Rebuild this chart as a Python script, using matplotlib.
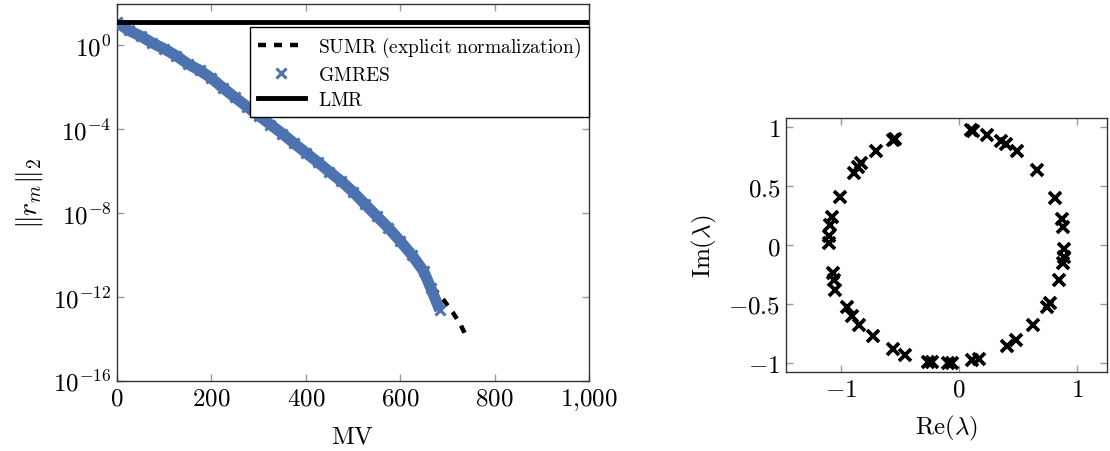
import numpy as np
import matplotlib
matplotlib.use("Agg")
import matplotlib.pyplot as plt
from matplotlib.ticker import FixedLocator, FixedFormatter, NullLocator

plt.rcParams['mathtext.fontset'] = 'cm'
plt.rcParams['font.family'] = 'serif'
plt.rcParams['font.serif'] = ['DejaVu Serif']

# ---------------- data: convergence plot ----------------
gmres_mv = [0, 25, 50, 75, 100, 125, 150, 175, 200, 225, 250, 275, 300, 325,
            350, 375, 400, 425, 450, 475, 500, 525, 550, 575, 600, 625, 650,
            665, 684]
gmres_log10 = [1.08, 0.70, 0.43, 0.10, -0.18, -0.50, -0.90, -1.20, -1.58, -2.05,
               -2.50, -2.93, -3.36, -3.79, -4.22, -4.68, -5.13, -5.58, -6.04,
               -6.49, -7.00, -7.58, -8.15, -8.72, -9.35, -10.02, -10.80,
               -11.60, -12.65]

sumr_mv = [0, 100, 200, 300, 400, 500, 600, 625, 650, 665, 691, 712, 727, 741]
sumr_log10 = [1.08, -0.18, -1.58, -3.36, -5.13, -7.00, -9.35, -10.02, -10.75,
              -11.45, -12.13, -12.77, -13.30, -13.94]

lmr_mv = [0, 1000]
lmr_res = [12.5, 12.5]

xticks_left = [0, 200, 400, 600, 800, 1000]
xticklabels_left = ['$0$', '$200$', '$400$', '$600$', '$800$', '$1{,}000$']
yticks_left = [1e0, 1e-4, 1e-8, 1e-12, 1e-16]
yticklabels_left = ['$10^{0}$', '$10^{-4}$', '$10^{-8}$', '$10^{-12}$', '$10^{-16}$']

labels = [r'$\mathrm{SUMR\ (explicit\ normalization)}$', r'$\mathrm{GMRES}$', r'$\mathrm{LMR}$']

# ---------------- data: eigenvalues ----------------
eig_re = [-0.544, -0.56, -0.70, -0.83, -0.86, -0.89, -1.01, -1.08, -1.09, -1.10,
          -1.10, -1.07, -1.06, -1.05, -0.95, -0.91, -0.85, -0.73, -0.56, -0.46,
          -0.26, -0.23, -0.09, -0.06, 0.11, 0.17, 0.41, 0.48, 0.63, 0.745, 0.77,
          0.85, 0.89, 0.89, 0.885, 0.875, 0.88, 0.81, 0.66, 0.49, 0.36, 0.40,
          0.235, 0.12, 0.10]
eig_im = [0.90, 0.895, 0.80, 0.70, 0.66, 0.61, 0.41, 0.24, 0.17, 0.08,
          0.02, -0.24, -0.30, -0.38, -0.53, -0.60, -0.68, -0.77, -0.88, -0.93,
          -0.995, -0.995, -1.0, -1.0, -0.98, -0.965, -0.86, -0.81, -0.68, -0.53, -0.49,
          -0.30, -0.03, -0.10, -0.15, 0.22, 0.15, 0.40, 0.64, 0.80, 0.88, 0.86,
          0.93, 0.97, 0.975]

ticks_re = [-1, 0, 1]
ticklabels_re = ['$-1$', '$0$', '$1$']
ticks_im = [-1, -0.5, 0, 0.5, 1]
ticklabels_im = ['$-1$', '$-0.5$', '$0$', '$0.5$', '$1$']

blue = '#4C72B0'
tickgray = '#9a9a9a'
FS = 18

fig = plt.figure(figsize=(11.10, 4.52), dpi=100)
ax1 = fig.add_axes([117/1110, 1 - 381.5/452, 472/1110, 376.5/452])
ax2 = fig.add_axes([786/1110, 1 - 373/452, 321/1110, 254/452])

def style(ax):
    for s in ax.spines.values():
        s.set_linewidth(1.0)
        s.set_color('#333333')
    ax.tick_params(which='both', direction='in', top=True, right=True,
                   color=tickgray, length=5, width=1.0, labelsize=FS, pad=4)

# ---- left ----
g_res = 10 ** np.array(gmres_log10)
s_res = 10 ** np.array(sumr_log10)
ax1.set_yscale('log')
ln_sumr, = ax1.plot(sumr_mv, s_res, color='black', lw=3.2, dashes=(1.8, 1.8),
                    zorder=2, label=labels[0])
ax1.plot(gmres_mv, g_res, color=blue, lw=8.0, solid_capstyle='butt', zorder=3)
ln_gm, = ax1.plot(gmres_mv, g_res, ls='none', marker='x', ms=6.5, mew=2.2,
                  color=blue, zorder=4, label=labels[1])
ln_lmr, = ax1.plot(lmr_mv, lmr_res, color='black', lw=3.5, zorder=5, label=labels[2])
ax1.set_xlim(0, 1000)
ax1.set_ylim(10 ** -16, 10 ** 1.96)
ax1.xaxis.set_major_locator(FixedLocator(xticks_left))
ax1.xaxis.set_major_formatter(FixedFormatter(xticklabels_left))
ax1.yaxis.set_major_locator(FixedLocator(yticks_left))
ax1.yaxis.set_major_formatter(FixedFormatter(yticklabels_left))
ax1.yaxis.set_minor_locator(NullLocator())
style(ax1)
ax1.set_xlabel(r'$\mathrm{MV}$', fontsize=FS, labelpad=9)
ax1.set_ylabel(r'$\|r_m\|_2$', fontsize=FS + 2, labelpad=6)
leg = ax1.legend(handles=[ln_sumr, ln_gm, ln_lmr], loc='upper right',
                 bbox_to_anchor=(1.0, 1 - 23/376.5), borderaxespad=0,
                 fontsize=14, frameon=True, fancybox=False, edgecolor='black',
                 framealpha=1, handlelength=2.4, labelspacing=0.36,
                 borderpad=0.4, handletextpad=0.7)
leg.get_frame().set_linewidth(1.0)
leg.set_zorder(10)

# ---- right ----
ax2.plot(eig_re, eig_im, ls='none', marker='x', ms=8.0, mew=2.7, color='black')
ax2.set_xlim(-1.466, 1.254)
ax2.set_ylim(-1.078, 1.078)
ax2.xaxis.set_major_locator(FixedLocator(ticks_re))
ax2.xaxis.set_major_formatter(FixedFormatter(ticklabels_re))
ax2.yaxis.set_major_locator(FixedLocator(ticks_im))
ax2.yaxis.set_major_formatter(FixedFormatter(ticklabels_im))
style(ax2)
ax2.set_xlabel(r'$\mathrm{Re}(\lambda)$', fontsize=FS, labelpad=9)
ax2.set_ylabel(r'$\mathrm{Im}(\lambda)$', fontsize=FS, labelpad=7)

fig.savefig('out.png', dpi=100)
